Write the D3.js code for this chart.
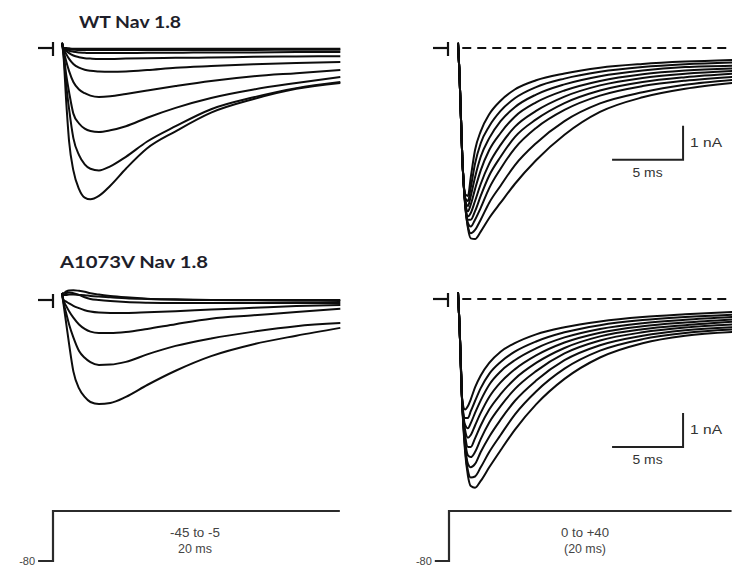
<!DOCTYPE html>
<html>
<head>
<meta charset="utf-8">
<script src="https://cdn.jsdelivr.net/npm/d3@7"></script>
<style>
body { margin: 0; background: #fff; }
svg { display: block; }
</style>
</head>
<body>
<div id="chart"></div>
<script>
// sample times (ms) for the traces
var timesLow = [0, 0.1, 0.3, 0.5, 0.8, 1.2, 1.6, 2, 2.6, 3.4, 4.5, 6, 8, 10.5, 13.5, 16.5, 19.6];
var timesHigh = [0, 0.1, 0.3, 0.5, 0.7, 0.9, 1.2, 1.6, 2.2, 3, 4, 5.5, 7.5, 10, 13, 16, 19.3];

// currents in nA, WT, steps -45 to -5 mV
var wtLow = [
    [0.15, -0.2, -1.6, -2.75, -3.6, -4.15, -4.4, -4.45, -4.35, -4.05, -3.55, -2.95, -2.45, -1.9, -1.5, -1.2, -1.03],
    [0.15, -0.15, -1.1, -1.8, -2.65, -3.15, -3.42, -3.55, -3.6, -3.48, -3.2, -2.75, -2.3, -1.8, -1.45, -1.18, -1.0],
    [0.15, -0.1, -0.8, -1.3, -1.93, -2.22, -2.37, -2.44, -2.47, -2.42, -2.3, -2.05, -1.76, -1.47, -1.22, -1.03, -0.85],
    [0.15, -0.05, -0.4, -0.68, -1.0, -1.22, -1.33, -1.4, -1.44, -1.42, -1.35, -1.25, -1.12, -0.97, -0.83, -0.74, -0.65],
    [0.15, 0, -0.18, -0.32, -0.47, -0.58, -0.64, -0.67, -0.69, -0.7, -0.69, -0.65, -0.58, -0.53, -0.48, -0.44, -0.41],
    [0.15, 0, -0.08, -0.15, -0.22, -0.27, -0.3, -0.31, -0.32, -0.32, -0.31, -0.3, -0.29, -0.28, -0.26, -0.25, -0.24],
    [0.15, 0, -0.04, -0.08, -0.11, -0.13, -0.14, -0.15, -0.15, -0.15, -0.15, -0.14, -0.14, -0.13, -0.13, -0.12, -0.12],
    [0.15, 0, -0.02, -0.04, -0.05, -0.06, -0.06, -0.06, -0.06, -0.06, -0.06, -0.06, -0.06, -0.06, -0.06, -0.05, -0.05],
    [0.15, 0, 0, -0.01, -0.02, -0.02, -0.02, -0.02, -0.02, -0.02, -0.02, -0.02, -0.02, -0.02, -0.02, -0.02, -0.02]
];

// currents in nA, WT, steps 0 to +40 mV
var wtHigh = [
    [0.15, -0.7, -3.2, -4.3, -4.35, -3.8, -3.0, -2.45, -1.95, -1.55, -1.22, -0.95, -0.75, -0.58, -0.47, -0.4, -0.35],
    [0.15, -0.7, -3.2, -4.4, -4.5, -4.1, -3.4, -2.8, -2.3, -1.85, -1.48, -1.15, -0.9, -0.7, -0.56, -0.48, -0.43],
    [0.15, -0.7, -3.2, -4.45, -4.65, -4.35, -3.8, -3.2, -2.65, -2.15, -1.74, -1.37, -1.07, -0.83, -0.66, -0.56, -0.52],
    [0.15, -0.7, -3.2, -4.5, -4.8, -4.6, -4.15, -3.6, -3.0, -2.5, -2.02, -1.6, -1.25, -0.97, -0.77, -0.66, -0.6],
    [0.15, -0.7, -3.2, -4.5, -4.95, -4.85, -4.5, -4.0, -3.4, -2.85, -2.32, -1.85, -1.43, -1.1, -0.88, -0.76, -0.68],
    [0.15, -0.7, -3.2, -4.55, -5.05, -5.05, -4.8, -4.35, -3.75, -3.2, -2.62, -2.1, -1.62, -1.25, -1.0, -0.86, -0.76],
    [0.15, -0.7, -3.2, -4.55, -5.15, -5.25, -5.05, -4.7, -4.12, -3.55, -2.95, -2.35, -1.82, -1.4, -1.12, -0.96, -0.85],
    [0.15, -0.7, -3.2, -4.6, -5.25, -5.45, -5.35, -5.05, -4.55, -4.05, -3.45, -2.8, -2.15, -1.63, -1.3, -1.08, -0.94],
    [0.15, -0.7, -3.2, -4.6, -5.3, -5.6, -5.62, -5.4, -5.0, -4.55, -4.0, -3.3, -2.55, -1.88, -1.45, -1.2, -1.03]
];

// currents in nA, A1073V, steps -45 to -5 mV
var mutLow = [
    [0.2, -0.1, -0.7, -1.3, -2.1, -2.6, -2.85, -3.0, -3.06, -3.03, -2.85, -2.5, -2.08, -1.65, -1.3, -1.05, -0.82],
    [0.2, -0.05, -0.4, -0.72, -1.1, -1.5, -1.7, -1.83, -1.91, -1.9, -1.82, -1.6, -1.35, -1.13, -0.93, -0.77, -0.68],
    [0.2, 0, -0.18, -0.33, -0.52, -0.72, -0.85, -0.93, -0.97, -0.97, -0.94, -0.85, -0.71, -0.55, -0.45, -0.35, -0.26],
    [0.2, 0, -0.05, -0.1, -0.17, -0.24, -0.3, -0.34, -0.37, -0.38, -0.38, -0.36, -0.33, -0.28, -0.23, -0.18, -0.15],
    [0.2, 0.15, 0.2, 0.22, 0.2, 0.15, 0.08, 0.03, 0, -0.03, -0.06, -0.08, -0.09, -0.09, -0.09, -0.09, -0.09],
    [0.2, 0.2, 0.25, 0.28, 0.29, 0.27, 0.24, 0.2, 0.16, 0.12, 0.08, 0.04, 0.02, 0, -0.01, -0.02, -0.03],
    [0.2, 0.15, 0.15, 0.16, 0.16, 0.15, 0.14, 0.12, 0.1, 0.08, 0.05, 0.03, 0.01, 0, 0, 0, 0]
];

// currents in nA, A1073V, steps 0 to +40 mV
var mutHigh = [
    [0.2, -0.7, -3.0, -3.25, -3.15, -2.95, -2.6, -2.25, -1.88, -1.55, -1.3, -1.04, -0.83, -0.66, -0.53, -0.45, -0.38],
    [0.2, -0.7, -3.05, -3.5, -3.5, -3.3, -3.0, -2.62, -2.2, -1.85, -1.55, -1.25, -0.98, -0.77, -0.62, -0.53, -0.46],
    [0.2, -0.7, -3.05, -3.7, -3.8, -3.65, -3.35, -2.98, -2.52, -2.13, -1.8, -1.45, -1.13, -0.88, -0.71, -0.61, -0.53],
    [0.2, -0.7, -3.05, -3.85, -4.08, -4.0, -3.72, -3.35, -2.88, -2.45, -2.07, -1.66, -1.28, -0.99, -0.8, -0.69, -0.6],
    [0.2, -0.7, -3.1, -4.0, -4.35, -4.35, -4.1, -3.72, -3.25, -2.8, -2.35, -1.88, -1.44, -1.1, -0.89, -0.77, -0.67],
    [0.2, -0.7, -3.1, -4.15, -4.6, -4.65, -4.5, -4.12, -3.63, -3.15, -2.65, -2.12, -1.6, -1.22, -0.98, -0.84, -0.75],
    [0.2, -0.7, -3.1, -4.3, -4.85, -4.95, -4.85, -4.5, -4.05, -3.55, -3.0, -2.4, -1.8, -1.36, -1.08, -0.92, -0.83],
    [0.2, -0.7, -3.1, -4.4, -5.05, -5.25, -5.22, -4.95, -4.5, -4.0, -3.4, -2.72, -2.05, -1.52, -1.18, -1.0, -0.9],
    [0.2, -0.7, -3.1, -4.5, -5.2, -5.5, -5.55, -5.35, -4.95, -4.45, -3.85, -3.1, -2.35, -1.72, -1.3, -1.08, -0.97]
];

// voltage protocols
var protocolTimesLow = [-1.05, 0, 0, 20.2];
var protocolTimesHigh = [-1.0, 0, 0, 19.9];
var protocolLow = [-80, -80, -5, -5];
var protocolHigh = [-80, -80, 40, 40];

var panelTitles = ["WT Nav 1.8", "A1073V Nav 1.8"];
var stepLabelsLow = ["-45 to -5", "20 ms"];
var stepLabelsHigh = ["0 to +40", "(20 ms)"];
var holdLabel = "-80";
var scaleBarLabels = ["1 nA", "5 ms"];
var scaleBarSize = [5, 1]; // ms, nA

var width = 732, height = 568;
var msPx = 14.2, nAPx = 34;

var svg = d3.select("#chart")
    .append("svg")
    .attr("width", width)
    .attr("height", height);

function tracePanel(times, traces, x0, y0, opts) {
    var x = d3.scaleLinear()
        .domain([0, 20])
        .range([x0, x0 + 20 * msPx]);
    var y = d3.scaleLinear()
        .domain([0, -6])
        .range([y0, y0 + 6 * nAPx]);

    var g = svg.append("g");

    // zero-current marker
    g.append("line")
        .attr("x1", opts.markX - 15).attr("x2", opts.markX)
        .attr("y1", y(0)).attr("y2", y(0))
        .attr("stroke", "#111").attr("stroke-width", 2.2);
    g.append("line")
        .attr("x1", opts.markX).attr("x2", opts.markX)
        .attr("y1", y(0) - 6).attr("y2", y(0) + 8)
        .attr("stroke", "#111").attr("stroke-width", 2.2);

    if (opts.dashed) {
        g.append("line")
            .attr("x1", x(0.3)).attr("x2", width)
            .attr("y1", y(0)).attr("y2", y(0))
            .attr("stroke", "#111")
            .attr("stroke-width", 2)
            .attr("stroke-dasharray", "9,6");
    }

    var line = d3.line()
        .x(function(d, i) { return x(times[i]); })
        .y(function(d) { return y(d); })
        .curve(d3.curveMonotoneX);

    g.selectAll("path.trace")
        .data(traces)
        .enter()
        .append("path")
        .attr("class", "trace")
        .attr("d", line)
        .attr("fill", "none")
        .attr("stroke", "#0d0d0d")
        .attr("stroke-width", 2);

    if (opts.bar) {
        var bx = x(opts.bar[0]), by = y(opts.bar[1]);
        g.append("path")
            .attr("d", "M" + (bx - scaleBarSize[0] * msPx) + "," + by +
                "H" + bx + "V" + (by - scaleBarSize[1] * nAPx))
            .attr("fill", "none")
            .attr("stroke", "#222")
            .attr("stroke-width", 2);
        g.append("text")
            .attr("x", bx + 7).attr("y", by - nAPx / 2 + 4)
            .attr("font-family", "Liberation Sans, Arial, sans-serif")
            .attr("font-size", 12)
            .attr("fill", "#333")
            .attr("textLength", 32)
            .attr("lengthAdjust", "spacingAndGlyphs")
            .text(scaleBarLabels[0]);
        g.append("text")
            .attr("x", bx - scaleBarSize[0] * msPx / 2).attr("y", by + 17)
            .attr("text-anchor", "middle")
            .attr("font-family", "Liberation Sans, Arial, sans-serif")
            .attr("font-size", 12)
            .attr("fill", "#333")
            .attr("textLength", 30)
            .attr("lengthAdjust", "spacingAndGlyphs")
            .text(scaleBarLabels[1]);
    }
}

function protocol(times, volts, x0, vTop, labels, labelX, labelW) {
    var x = d3.scaleLinear()
        .domain([0, 20])
        .range([x0, x0 + 20 * msPx]);
    var y = d3.scaleLinear()
        .domain([-80, vTop])
        .range([561, 511]);

    var line = d3.line()
        .x(function(d, i) { return x(times[i]); })
        .y(function(d) { return y(d); });

    svg.append("path")
        .attr("d", line(volts))
        .attr("fill", "none")
        .attr("stroke", "#2b2b2b")
        .attr("stroke-width", 2.2);

    svg.append("text")
        .attr("x", x(times[0]) - 3).attr("y", y(-80) + 4)
        .attr("text-anchor", "end")
        .attr("font-family", "Liberation Sans, Arial, sans-serif")
        .attr("font-size", 11)
        .attr("fill", "#444")
        .text(holdLabel);

    labels.forEach(function(t, i) {
        svg.append("text")
            .attr("x", labelX).attr("y", 537 + i * 16)
            .attr("text-anchor", "middle")
            .attr("font-family", "Liberation Sans, Arial, sans-serif")
            .attr("font-size", 12)
            .attr("fill", "#444")
            .attr("textLength", labelW[i])
            .attr("lengthAdjust", "spacingAndGlyphs")
            .text(t);
    });
}

// titles
svg.append("text")
    .attr("x", 79).attr("y", 28)
    .attr("font-family", "Lato, Open Sans, sans-serif")
    .attr("font-weight", "bold")
    .attr("font-size", 17)
    .attr("fill", "#1e1e2a")
    .attr("textLength", 102)
    .attr("lengthAdjust", "spacingAndGlyphs")
    .text(panelTitles[0]);
svg.append("text")
    .attr("x", 60).attr("y", 268)
    .attr("font-family", "Lato, Open Sans, sans-serif")
    .attr("font-weight", "bold")
    .attr("font-size", 17)
    .attr("fill", "#1e1e2a")
    .attr("textLength", 148)
    .attr("lengthAdjust", "spacingAndGlyphs")
    .text(panelTitles[1]);

tracePanel(timesLow, wtLow, 62, 48, { markX: 53 });
tracePanel(timesHigh, wtHigh, 458, 48, { markX: 448, dashed: true, bar: [15.85, -3.29] });
tracePanel(timesLow, mutLow, 62, 300, { markX: 53 });
tracePanel(timesHigh, mutHigh, 458, 299, { markX: 448, dashed: true, bar: [15.85, -4.35] });

protocol(protocolTimesLow, protocolLow, 53, -5, stepLabelsLow, 195, [50, 34]);
protocol(protocolTimesHigh, protocolHigh, 449, 40, stepLabelsHigh, 585, [48, 42]);
</script>
</body>
</html>
